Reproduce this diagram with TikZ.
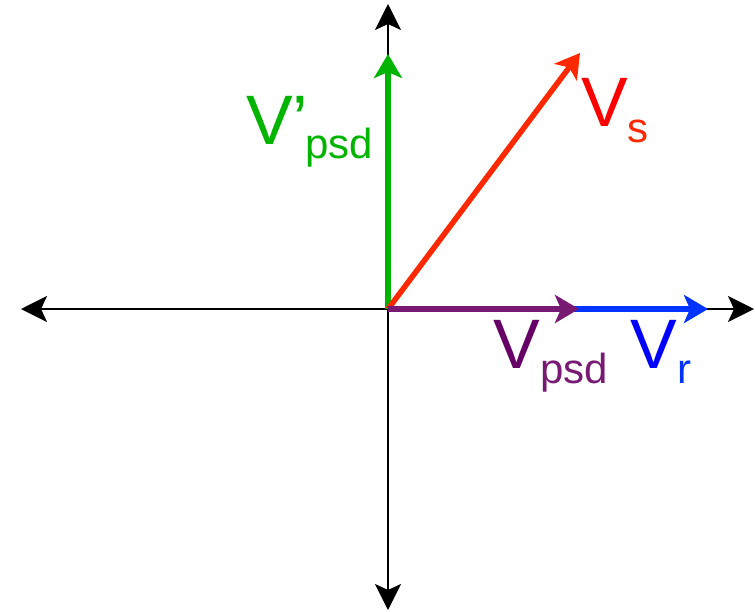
\documentclass[tikz,border=0pt]{standalone}
\usepackage{fontspec}
\setmainfont{Liberation Sans}
\usetikzlibrary{arrows.meta}
\definecolor{vgreen}{RGB}{0,180,0}
\definecolor{vred}{RGB}{255,40,0}
\definecolor{vredtext}{RGB}{255,0,0}
\definecolor{vpurple}{RGB}{120,25,115}
\definecolor{vpurpletext}{RGB}{102,0,102}
\definecolor{vblue}{RGB}{0,51,255}
\definecolor{vbluetext}{RGB}{0,0,255}
\tikzset{
  axis/.style={draw=black, line width=2.2pt, -{Stealth[length=26pt,width=26pt,inset=6pt]}},
  vec/.style={line width=5.5pt, -{Stealth[length=24pt,width=28pt,inset=6pt]}},
  lbl/.style={inner sep=0pt, anchor=base west, font=\fontsize{70}{76}\selectfont},
  sub/.style={inner sep=0pt, anchor=base west, font=\fontsize{42}{46}\selectfont},
}
\begin{document}
\begin{tikzpicture}[x=1pt,y=-1pt]
\useasboundingbox (0,0) rectangle (755,611);
\coordinate (O) at (388,309);
\coordinate (L) at (21,309);
\coordinate (R) at (754,309);
\coordinate (T) at (388,4);
\coordinate (B) at (388,610);
\coordinate (G) at (388,54);
\coordinate (S) at (580,53);
\coordinate (Vr) at (708,309);
\coordinate (Vp) at (579,309);
\draw[axis] (O) -- (L);
\draw[axis] (O) -- (R);
\draw[axis] (O) -- (T);
\draw[axis] (O) -- (B);
\draw[vec, vgreen] (O) -- (G);
\draw[vec, vred] (O) -- (S);
\draw[vec, vblue] (O) -- (Vr);
\draw[vec, vpurple] (O) -- (Vp);
\node[lbl, text=vgreen] (gV) at (246,144) {V’};
\node[sub, text=vgreen] (gS) at (305,158) {psd};
\node[lbl, text=vredtext] (rV) at (581,126) {V};
\node[sub, text=vred] (rS) at (627,142) {s};
\node[lbl, text=vpurpletext] (pV) at (493,368) {V};
\node[sub, text=vpurple] (pS) at (540,383) {psd};
\node[lbl, text=vbluetext] (bV) at (630,368) {V};
\node[sub, text=vblue] (bS) at (677,383) {r};
\end{tikzpicture}
\end{document}
